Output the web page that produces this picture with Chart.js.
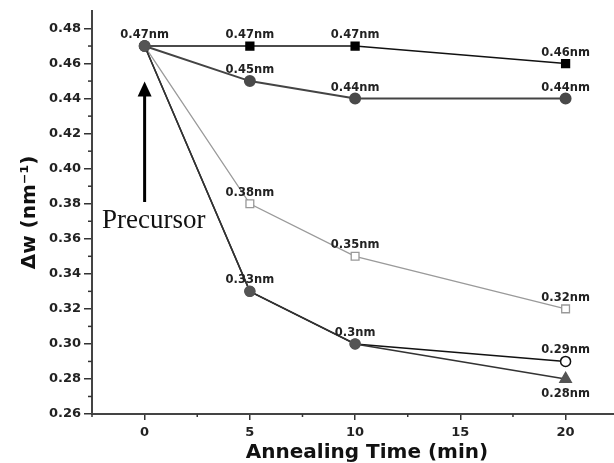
<!DOCTYPE html>
<html>
<head>
<meta charset="utf-8">
<script src="https://cdn.jsdelivr.net/npm/chart.js@4"></script>
<style>
  body { margin: 0; background: #fff; }
</style>
</head>
<body>
<canvas id="c" width="614" height="463"></canvas>
<script>
// annealing times (min) and linewidth values (nm^-1)
const times = [0, 5, 10, 20];
const squaresBlack = [0.47, 0.47, 0.47, 0.46];
const circlesGray = [0.47, 0.45, 0.44, 0.44];
const squaresOpen = [0.47, 0.38, 0.35, 0.32];
const circleOpenEnd = [0.47, 0.33, 0.30, 0.29];
const triangleEnd = [0.47, 0.33, 0.30, 0.28];

const xTicks = [0, 5, 10, 15, 20];
const yTicks = [0.26, 0.28, 0.30, 0.32, 0.34, 0.36, 0.38, 0.40, 0.42, 0.44, 0.46, 0.48];

const tickFont = { family: 'DejaVu Sans', weight: 'bold', size: 13 };
const START = '#555';

function pts(vals) {
  return times.map((t, i) => ({ x: t, y: vals[i] }));
}

// which points carry an "nm" label, and whether it goes above (-) or below (+)
const datasets = [
  {
    data: pts(triangleEnd), borderColor: '#333', borderWidth: 1.5,
    pointStyle: ['circle', 'circle', 'circle', 'triangle'],
    pointRadius: [5, 5, 5, 6.5],
    pointBackgroundColor: START, pointBorderColor: START,
    showLabel: [false, false, false, true], labelDy: 15
  },
  {
    data: pts(circleOpenEnd), borderColor: '#111', borderWidth: 1.5,
    pointStyle: 'circle', pointRadius: 5,
    pointBackgroundColor: [START, START, START, '#fff'],
    pointBorderColor: [START, START, START, '#111'], pointBorderWidth: [1, 1, 1, 1.5],
    showLabel: [false, true, true, true], labelDy: -11
  },
  {
    data: pts(squaresOpen), borderColor: '#9a9a9a', borderWidth: 1.3,
    pointStyle: ['circle', 'rect', 'rect', 'rect'], pointRadius: [5, 5.5, 5.5, 5.5],
    pointBackgroundColor: [START, '#fff', '#fff', '#fff'],
    pointBorderColor: [START, '#999', '#999', '#999'], pointBorderWidth: 1.3,
    showLabel: [false, true, true, true], labelDy: -11
  },
  {
    data: pts(circlesGray), borderColor: '#444', borderWidth: 2,
    pointStyle: 'circle', pointRadius: 5,
    pointBackgroundColor: '#4a4a4a', pointBorderColor: '#4a4a4a',
    showLabel: [false, true, true, true], labelDy: -11
  },
  {
    data: pts(squaresBlack), borderColor: '#111', borderWidth: 1.5,
    pointStyle: ['circle', 'rect', 'rect', 'rect'], pointRadius: [5, 5.5, 5.5, 5.5],
    pointBackgroundColor: [START, '#000', '#000', '#000'],
    pointBorderColor: [START, '#000', '#000', '#000'],
    showLabel: [true, true, true, true], labelDy: -11
  }
];

// value labels like "0.47nm"
const nmLabels = {
  id: 'nmLabels',
  afterDatasetsDraw(chart) {
    const ctx = chart.ctx;
    ctx.save();
    ctx.font = 'bold 11.5px "DejaVu Sans"';
    ctx.fillStyle = '#222';
    ctx.textAlign = 'center';
    ctx.textBaseline = 'middle';
    chart.data.datasets.forEach((ds, di) => {
      const meta = chart.getDatasetMeta(di);
      meta.data.forEach((el, i) => {
        if (!ds.showLabel[i]) return;
        ctx.fillText(String(ds.data[i].y) + 'nm', el.x, el.y + ds.labelDy);
      });
    });
    ctx.restore();
  }
};

// minor ticks, x title and the precursor arrow
const decorations = {
  id: 'decorations',
  afterDraw(chart) {
    const ctx = chart.ctx;
    const xs = chart.scales.x, ys = chart.scales.y;
    const a = chart.chartArea;
    ctx.save();
    ctx.strokeStyle = '#333';
    ctx.lineWidth = 1.5;
    for (let v = -2.5; v <= xs.max; v += 5) {
      const px = xs.getPixelForValue(v);
      ctx.beginPath(); ctx.moveTo(px, a.bottom); ctx.lineTo(px, a.bottom + 3); ctx.stroke();
    }
    for (let v = 0.27; v < ys.max; v += 0.02) {
      const py = ys.getPixelForValue(v);
      ctx.beginPath(); ctx.moveTo(a.left, py); ctx.lineTo(a.left - 4, py); ctx.stroke();
    }

    ctx.font = 'bold 20px "DejaVu Sans"';
    ctx.fillStyle = '#111';
    ctx.textAlign = 'center';
    ctx.textBaseline = 'alphabetic';
    ctx.fillText('Annealing Time (min)', (a.left + a.right) / 2 + 14, a.bottom + 44);

    const ax = xs.getPixelForValue(0);
    const yTop = ys.getPixelForValue(0.4497);
    const yBot = ys.getPixelForValue(0.381);
    ctx.strokeStyle = '#000';
    ctx.fillStyle = '#000';
    ctx.lineWidth = 3;
    ctx.beginPath(); ctx.moveTo(ax, yBot); ctx.lineTo(ax, yTop + 12); ctx.stroke();
    ctx.beginPath();
    ctx.moveTo(ax, yTop); ctx.lineTo(ax - 7, yTop + 15); ctx.lineTo(ax + 7, yTop + 15);
    ctx.closePath(); ctx.fill();
    ctx.font = '27px "Liberation Serif"';
    ctx.textAlign = 'left';
    ctx.fillStyle = '#111';
    ctx.fillText('Precursor', a.left + 10, ys.getPixelForValue(0.3663));
    ctx.restore();
  }
};

new Chart(document.getElementById('c'), {
  type: 'line',
  data: { datasets },
  options: {
    responsive: false,
    animation: false,
    layout: { autoPadding: false, padding: { top: 11, right: 0, left: 0, bottom: 0 } },
    plugins: { legend: { display: false }, tooltip: { enabled: false } },
    scales: {
      x: {
        type: 'linear', min: -2.5, max: 22.3,
        afterBuildTicks: s => { s.ticks = xTicks.map(v => ({ value: v })); },
        afterFit: s => { s.height = 49; s.paddingLeft = 0; s.paddingRight = 0; },
        grid: { drawOnChartArea: false, drawTicks: true, tickLength: 6, color: '#333', lineWidth: 1.5 },
        border: { display: true, color: '#444', width: 2 },
        ticks: { font: tickFont, color: '#222', padding: 5 }
      },
      y: {
        min: 0.26, max: 0.49,
        afterBuildTicks: s => { s.ticks = yTicks.map(v => ({ value: v })); },
        afterFit: s => { s.width = 92; s.paddingTop = 0; s.paddingBottom = 0; },
        grid: { drawOnChartArea: false, drawTicks: true, tickLength: 8, color: '#333', lineWidth: 1.5 },
        border: { display: true, color: '#444', width: 2 },
        ticks: { font: tickFont, color: '#222', padding: 3, callback: v => v.toFixed(2) },
        title: {
          display: true, text: 'Δw (nm⁻¹)', color: '#111',
          font: { family: 'DejaVu Sans', weight: 'bold', size: 20 }, padding: { top: 18, bottom: 0 }
        }
      }
    }
  },
  plugins: [nmLabels, decorations]
});
</script>
</body>
</html>
